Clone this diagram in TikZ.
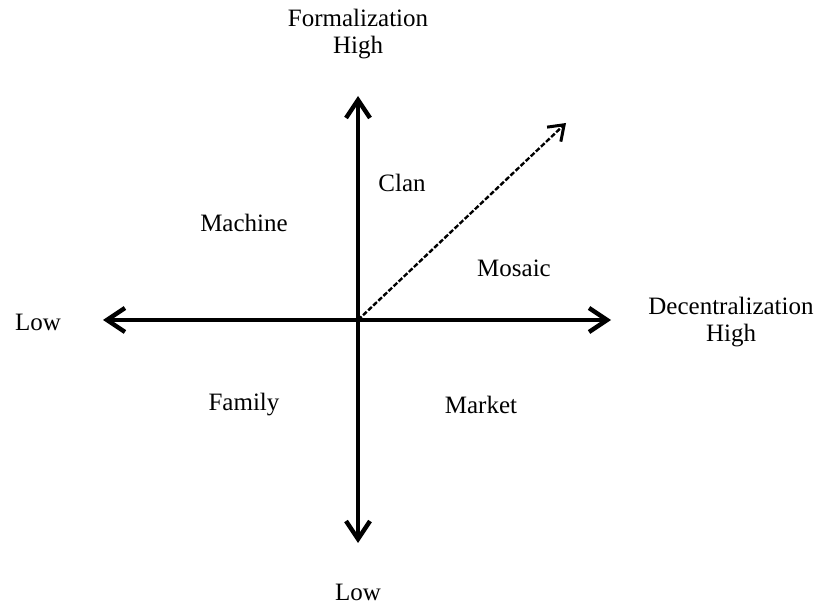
\documentclass[tikz,border=0pt]{standalone}
\usepackage{fontspec}
\setmainfont{Liberation Serif}
\usetikzlibrary{arrows.meta,positioning}
\definecolor{ink}{HTML}{000000}
\tikzset{axis/.style={line width=2pt,draw=ink,{Straight Barb[length=9pt,width=12pt,line width=2.2pt]}-{Straight Barb[length=9pt,width=12pt,line width=2.2pt]}},
  drift/.style={line width=1.2pt,draw=ink,dash pattern=on 2.5pt off 1pt,-{Straight Barb[length=7pt,width=10pt,line width=1.5pt]}},
  lbl/.style={font=\fontsize{12.5}{13.5}\selectfont,text=ink,inner sep=1pt,align=center},
  quad/.style={lbl}}

\begin{document}
\begin{tikzpicture}[x=0.5pt,y=-0.5pt]
\useasboundingbox (0,0) rectangle (831,609);
\coordinate (o) at (358,320);
\coordinate (top) at (358,96);
\coordinate (bot) at (358,543);
\coordinate (left) at (103,320);
\coordinate (right) at (611,320);
\coordinate (tip) at (566,123);
\draw[axis] (left) -- (right);
\draw[axis] (bot) -- (top);
\draw[drift] (o) -- (tip);
% axis labels
\node[lbl] (formal) at (358,34) {Formalization\\High};
\node[lbl] (decent) at (731,322) {Decentralization\\High};
\node[lbl] (lowx) at (38,322) {Low};
\node[lbl] (lowy) at (358,592) {Low};
% quadrants
\node[quad] (machine) at (244,223) {Machine};
\node[quad] (clan) at (402,183) {Clan};
\node[quad] (mosaic) at (514,268) {Mosaic};
\node[quad] (family) at (244,405) {Family};
\node[quad] (market) at (481,405) {Market};
\end{tikzpicture}
\end{document}
